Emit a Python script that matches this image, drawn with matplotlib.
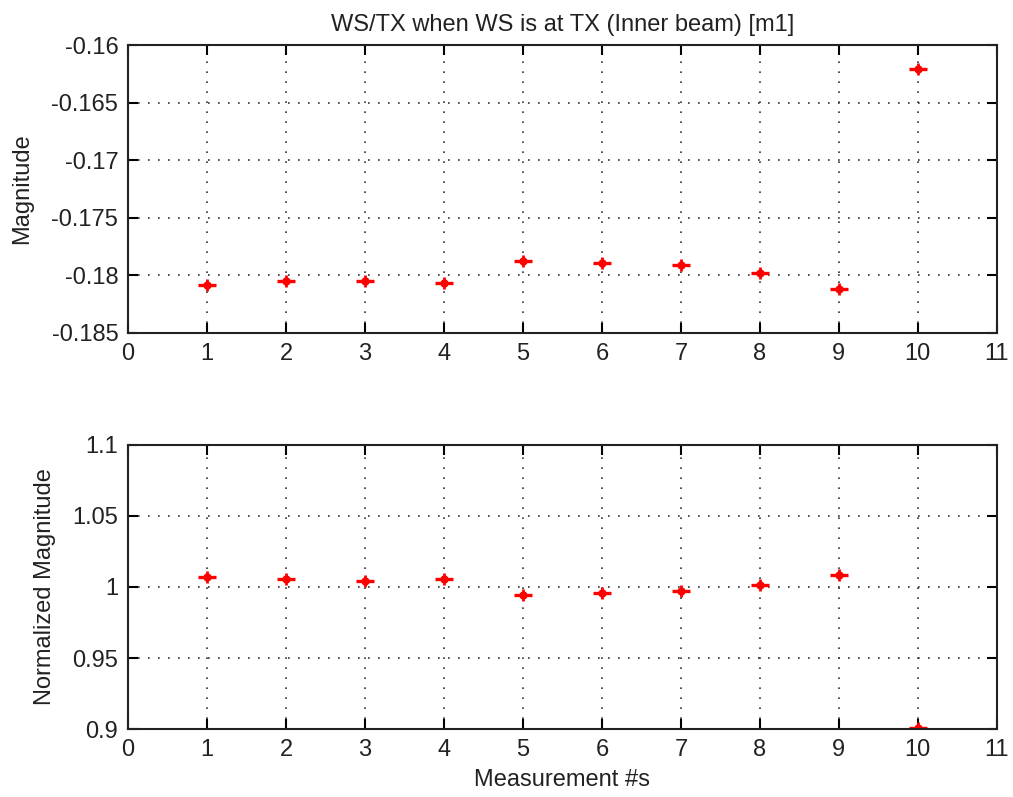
import matplotlib
matplotlib.use("Agg")
import matplotlib.pyplot as plt

plt.rcParams["font.family"] = ["Liberation Sans", "DejaVu Sans"]
plt.rcParams["axes.unicode_minus"] = False

# measurement data
meas = [1, 2, 3, 4, 5, 6, 7, 8, 9, 10]
magnitude = [-0.18087, -0.18052, -0.18052, -0.18069, -0.17878,
             -0.17890, -0.17913, -0.17983, -0.18122, -0.16208]
norm_mag = [1.0070, 1.0056, 1.0040, 1.0056, 0.9946,
            0.9956, 0.9970, 1.0012, 1.0082, 0.9009]

x_ticks = list(range(0, 12))
top_yticks = [-0.185, -0.18, -0.175, -0.17, -0.165, -0.16]
top_ylabels = ["-0.185", "-0.18", "-0.175", "-0.17", "-0.165", "-0.16"]
bot_yticks = [0.9, 0.95, 1.0, 1.05, 1.1]
bot_ylabels = ["0.9", "0.95", "1", "1.05", "1.1"]

fs = 17
txt_color = "#222222"

fig = plt.figure(figsize=(10.13, 7.97), dpi=100)
ax1 = fig.add_axes([0.1264, 0.5822, 0.8576, 0.3613])
ax2 = fig.add_axes([0.1264, 0.0853, 0.8576, 0.3564])


def draw_points(ax, y):
    ax.plot(meas, y, linestyle="none", marker="_", ms=13, mew=2.4, color="red")
    ax.plot(meas, y, linestyle="none", marker="|", ms=8, mew=2.0, color="red")
    ax.plot(meas, y, linestyle="none", marker="o", ms=5, color="red")


def style(ax, yticks, ylabels, ylim):
    ax.set_xlim(0, 11)
    ax.set_ylim(*ylim)
    ax.set_xticks(x_ticks)
    ax.set_xticklabels([str(t) for t in x_ticks], fontsize=fs, color=txt_color)
    ax.set_yticks(yticks)
    ax.set_yticklabels(ylabels, fontsize=fs, color=txt_color)
    ax.grid(True, linestyle=(0, (1, 5)), color="#333333", linewidth=1.2)
    ax.tick_params(direction="in", top=True, right=True, length=7, width=1.5, pad=7)
    for s in ax.spines.values():
        s.set_linewidth(1.5)
        s.set_color("#222222")


draw_points(ax1, magnitude)
style(ax1, top_yticks, top_ylabels, (-0.185, -0.16))
ax1.set_ylabel("Magnitude", fontsize=fs, color=txt_color, labelpad=13.5)
ax1.set_title("WS/TX when WS is at TX (Inner beam) [m1]", fontsize=fs, color=txt_color, pad=10)

draw_points(ax2, norm_mag)
style(ax2, bot_yticks, bot_ylabels, (0.9, 1.1))
ax2.set_ylabel("Normalized Magnitude", fontsize=fs, color=txt_color, labelpad=11.5)
ax2.set_xlabel("Measurement #s", fontsize=fs, color=txt_color, labelpad=6)

fig.savefig("out.png", dpi=100)
